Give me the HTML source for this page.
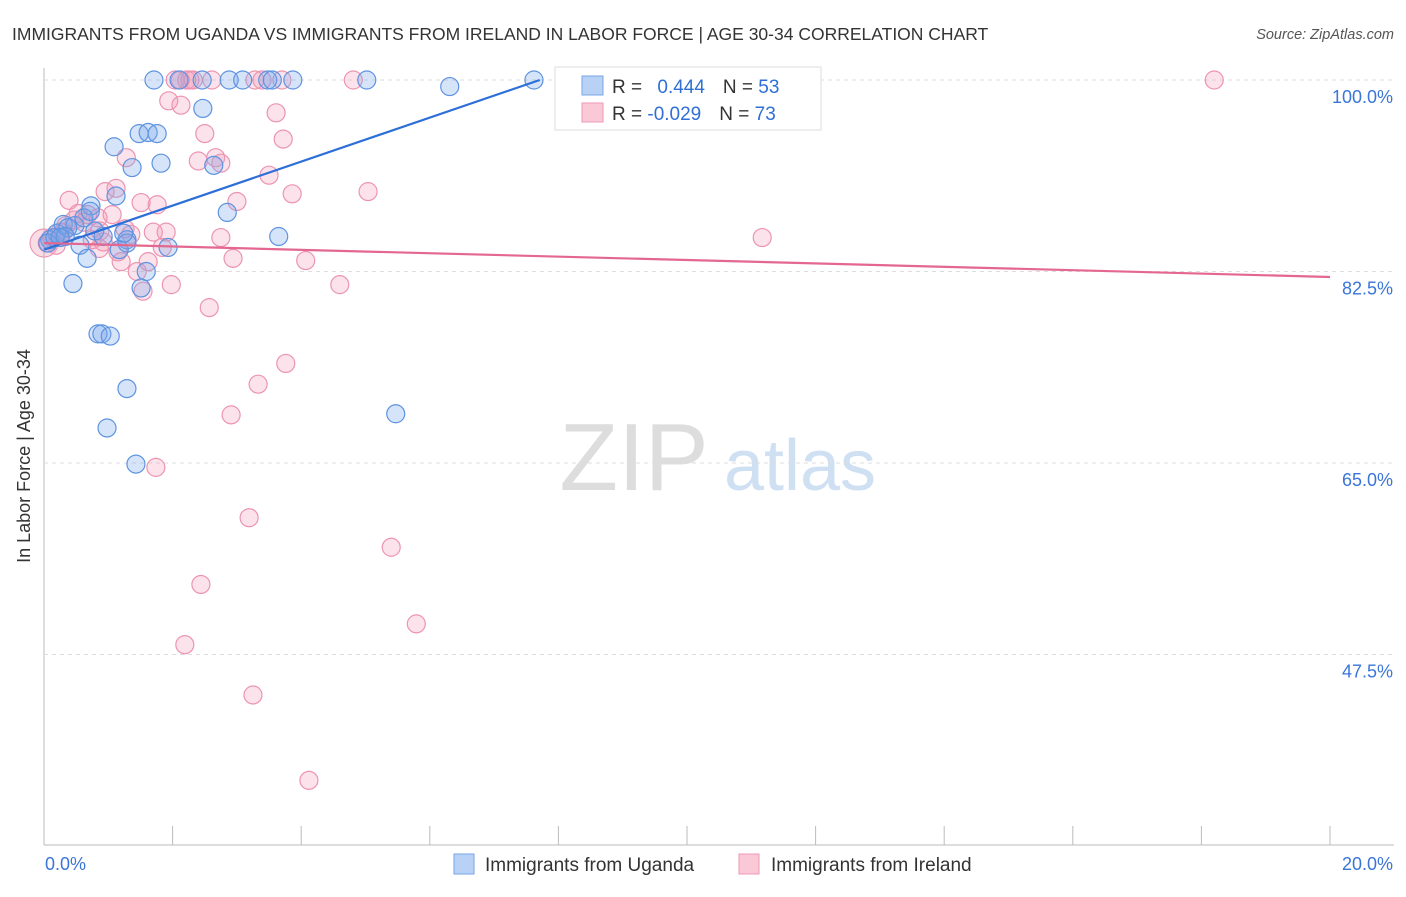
<!DOCTYPE html>
<html><head><meta charset="utf-8"><style>
body{margin:0;background:#fff;font-family:"Liberation Sans",sans-serif}
svg text{font-family:"Liberation Sans",sans-serif}
</style></head><body>
<svg id="c" width="1406" height="892">
<text x="12" y="40" font-size="17.5" fill="#333">IMMIGRANTS FROM UGANDA VS IMMIGRANTS FROM IRELAND IN LABOR FORCE | AGE 30-34 CORRELATION CHART</text>
<text x="1394" y="39" font-size="14.5" fill="#555" font-style="italic" text-anchor="end">Source: ZipAtlas.com</text>
<text x="634" y="490" font-size="96" fill="#ddd" font-family="Liberation Serif" text-anchor="middle">ZIP</text>
<text x="800" y="490" font-size="72" fill="#cfe0f3" text-anchor="middle">atlas</text>
<g id="grid"></g><g id="pts"></g><g id="lines"></g>
<text x="30" y="456" font-size="18" fill="#333" text-anchor="middle" transform="rotate(-90 30 456)">In Labor Force | Age 30-34</text>
<g>
<rect x="555" y="67" width="266" height="63" fill="#fff" stroke="#ddd"/>
<rect x="582" y="76" width="21" height="19" fill="#b8d1f5" stroke="#7aa6e6"/>
<rect x="582" y="103" width="21" height="19" fill="#fbc8d7" stroke="#ee9ab5"/>
<text x="612" y="93" font-size="19" fill="#333">R = <tspan fill="#2f6fd6" dx="10">0.444</tspan><tspan fill="#333" dx="18">N = </tspan><tspan fill="#2f6fd6">53</tspan></text>
<text x="612" y="120" font-size="19" fill="#333">R = <tspan fill="#2f6fd6">-0.029</tspan><tspan fill="#333" dx="18">N = </tspan><tspan fill="#2f6fd6">73</tspan></text>
</g>
<g>
<rect x="454" y="854" width="20" height="20" fill="#b8d1f5" stroke="#7aa6e6"/>
<text x="485" y="871" font-size="19" fill="#333">Immigrants from Uganda</text>
<rect x="739" y="854" width="20" height="20" fill="#fbc8d7" stroke="#ee9ab5"/>
<text x="771" y="871" font-size="19" fill="#333">Immigrants from Ireland</text>
</g>
</svg>
<script>
const ugX=[1.71,2.10,2.46,2.88,3.09,3.48,3.55,3.87,5.02,6.31,7.62,2.47,1.09,1.48,1.62,1.76,1.82,1.37,2.64,1.12,2.85,0.73,3.65,0.20,0.30,0.48,0.56,0.79,0.92,1.29,1.29,1.17,1.93,0.67,1.59,1.51,0.45,0.84,0.90,1.03,1.29,0.98,1.43,5.47,0.09,0.06,0.17,0.37,0.62,0.72,0.33,0.25,1.24];
const ugY=[100,100,100,100,100,100,100,100,100,99.4,100,97.4,93.9,95.1,95.2,95.1,92.4,92.0,92.2,89.4,87.9,88.5,85.7,86.0,86.8,86.7,84.9,86.2,85.7,85.4,85.1,84.5,84.7,83.7,82.5,81.0,81.4,76.8,76.8,76.6,71.8,68.2,64.9,69.5,85.4,85.1,85.6,86.5,87.4,88.0,85.7,85.6,86.0];
const irX=[2.04,2.12,2.22,2.27,2.32,2.61,3.28,3.39,3.70,4.81,18.20,1.94,2.13,3.61,2.50,3.72,1.28,2.40,2.67,2.75,3.50,0.95,1.12,3.86,5.04,0.39,1.51,1.76,3.00,1.06,0.53,0.68,0.84,0.34,0.47,0.62,0.25,0.87,1.26,1.35,1.70,1.90,2.75,0.92,1.15,1.84,0.86,1.20,1.62,1.45,2.94,4.07,1.98,1.54,4.60,2.57,11.17,3.76,3.33,2.91,1.74,3.19,5.40,2.44,5.79,2.19,3.25,4.12,0.05,0.12,0.30,0.19,0.75];
const irY=[100,100,100,100,100,100,100,100,100,100,100,98.1,97.7,97.0,95.1,94.6,92.9,92.6,92.9,92.4,91.3,89.8,90.1,89.6,89.8,89.0,88.8,88.6,88.9,87.7,87.8,87.7,87.4,86.7,87.2,87.0,86.1,86.2,86.4,85.9,86.1,86.1,85.6,85.2,84.3,84.7,84.6,83.4,83.4,82.5,83.7,83.5,81.3,80.7,81.3,79.2,85.6,74.1,72.2,69.4,64.6,60.0,57.3,53.9,50.3,48.4,43.8,36.0,85.1,85.6,86.1,84.9,85.4];
const yTicks=[100,82.5,65,47.5];
const yTickLabels=["100.0%","82.5%","65.0%","47.5%"];
const ugTrend=[[0,84.5],[7.71,100]];
const irTrend=[[0,85.1],[20,82.0]];
const NS="http://www.w3.org/2000/svg";
const sx=v=>44+v/20*1286, sy=v=>80+(100-v)/17.5*191.5;
function mk(p,t,a){const e=document.createElementNS(NS,t);for(const k in a)e.setAttribute(k,a[k]);p.appendChild(e);return e;}
const g=document.getElementById('grid');
const ax=mk(g,'line',{x1:44,y1:68,x2:44,y2:845,stroke:'#bbb'});


const bx=mk(g,'line',{x1:44,y1:845,x2:1394,y2:845,stroke:'#bbb'});


yTicks.forEach((t,i)=>{
 const l=mk(g,'line',{x1:44,x2:1394,y1:sy(t),y2:sy(t),stroke:'#ddd','stroke-dasharray':'4 4'});
 
 
 const tx=mk(g,'text',{x:1393,y:sy(t)+23,'font-size':18,fill:'#3a75d8','text-anchor':'end'});
 tx.textContent=yTickLabels[i];
 
 
});
for(let i=0;i<=10;i++){
 const l=mk(g,'line',{x1:sx(i*2),x2:sx(i*2),y1:826,y2:845,stroke:'#bbb'});
 
 
}
const x0=mk(g,'text',{x:45,y:870,'font-size':18,fill:'#3a75d8'});x0.textContent="0.0%";


const x1=mk(g,'text',{x:1393,y:870,'font-size':18,fill:'#3a75d8','text-anchor':'end'});x1.textContent="20.0%";


const P=document.getElementById('pts');
const big=mk(P,'circle',{cx:sx(0),cy:sy(85.1),r:14,fill:'rgba(240,140,170,0.3)',stroke:'#e98fae'});


irX.forEach((x,i)=>{
 const c=mk(P,'circle',{cx:sx(x),cy:sy(irY[i]),r:9,fill:'rgba(245,150,180,0.28)',stroke:'#ec94b2','stroke-width':1.2});
 
 
});
ugX.forEach((x,i)=>{
 const c=mk(P,'circle',{cx:sx(x),cy:sy(ugY[i]),r:9,fill:'rgba(120,165,235,0.3)',stroke:'#5e93e0','stroke-width':1.2});
 
 
});
const L=document.getElementById('lines');
const t1=mk(L,'line',{x1:sx(ugTrend[0][0]),y1:sy(ugTrend[0][1]),x2:sx(ugTrend[1][0]),y2:sy(ugTrend[1][1]),stroke:'#2d6fd8','stroke-width':2.2});


const t2=mk(L,'line',{x1:sx(irTrend[0][0]),y1:sy(irTrend[0][1]),x2:sx(irTrend[1][0]),y2:sy(irTrend[1][1]),stroke:'#e4678f','stroke-width':2.2});


</script>
</body></html>
